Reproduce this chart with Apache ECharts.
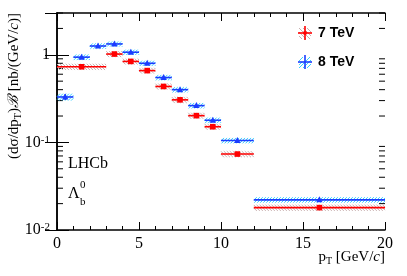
<!DOCTYPE html>
<html><head><meta charset="utf-8">
<script src="https://cdn.jsdelivr.net/npm/echarts@6/dist/echarts.min.js"></script>
<style>html,body{margin:0;padding:0;background:#fff}#c{width:407px;height:276px}</style>
</head><body><div id="c"></div>
<script>
// ---- data ----
const binLo7 = [0, 3, 4, 5, 6, 7, 8, 9, 10, 12];
const binHi7 = [3, 4, 5, 6, 7, 8, 9, 10, 12, 20];
const val7   = [0.73, 1.02, 0.84, 0.66, 0.435, 0.306, 0.202, 0.151, 0.0736, 0.0180];
const stat7  = [0.02, 0.02, 0.015, 0.012, 0.009, 0.007, 0.005, 0.004, 0.002, 0.0006];
const syst7  = [0.06, 0.08, 0.065, 0.05, 0.035, 0.025, 0.016, 0.012, 0.006, 0.0015];

const binLo8 = [0, 1, 2, 3, 4, 5, 6, 7, 8, 9, 10, 12];
const binHi8 = [1, 2, 3, 4, 5, 6, 7, 8, 9, 10, 12, 20];
const val8   = [0.33, 0.94, 1.26, 1.33, 1.07, 0.80, 0.55, 0.40, 0.263, 0.179, 0.105, 0.0221];
const stat8  = [0.025, 0.03, 0.03, 0.03, 0.02, 0.015, 0.01, 0.008, 0.006, 0.004, 0.002, 0.0006];
const syst8  = [0.03, 0.07, 0.09, 0.09, 0.075, 0.056, 0.04, 0.028, 0.019, 0.013, 0.0075, 0.0016];

const seriesNames = ['7 TeV', '8 TeV'];
const minorTickVals = [0.02,0.03,0.04,0.05,0.06,0.07,0.08,0.09,0.2,0.3,0.4,0.5,0.6,0.7,0.8,0.9,2,3];

const serif = '"Liberation Serif", "DejaVu Serif", serif';
const sans = '"Liberation Sans", Arial, sans-serif';

function rows(lo, hi, v, st, sy) {
  return v.map((_, i) => [lo[i], hi[i], v[i], st[i], sy[i]]);
}

function makeRender(kind, color, hatchColor, dir) {
  return function (params, api) {
    const x0 = api.value(0), x1 = api.value(1), y = api.value(2), se = api.value(3), sy = api.value(4);
    const xc = (x0 + x1) / 2;
    const pL = api.coord([x0, y]), pR = api.coord([x1, y]), pC = api.coord([xc, y]);
    const yT = api.coord([xc, y + sy])[1], yB = api.coord([xc, y - sy])[1];
    const eT = api.coord([xc, y + se])[1], eB = api.coord([xc, y - se])[1];
    const L = pL[0], R = pR[0], h = yB - yT;
    const ch = [];
    for (let a = L - h; a < R; a += 3) {
      const tmin = Math.max(0, (L - a) / h), tmax = Math.min(1, (R - a) / h);
      if (tmax <= tmin) continue;
      let xa = a + tmin * h, xb = a + tmax * h, ya, yb;
      if (dir > 0) { ya = yB - tmin * h; yb = yB - tmax * h; }
      else { ya = yT + tmin * h; yb = yT + tmax * h; }
      ch.push({type: 'line', shape: {x1: xa, y1: ya, x2: xb, y2: yb}, style: {stroke: hatchColor, lineWidth: 1}});
    }
    ch.push({type: 'line', shape: {x1: L, y1: pC[1], x2: R, y2: pC[1]}, style: {stroke: color, lineWidth: 1.6}});
    ch.push({type: 'line', shape: {x1: pC[0], y1: eT, x2: pC[0], y2: eB}, style: {stroke: color, lineWidth: 1.6}});
    if (kind === 'square') {
      ch.push({type: 'rect', shape: {x: pC[0] - 2.8, y: pC[1] - 2.8, width: 5.6, height: 5.6}, style: {fill: color}});
    } else {
      ch.push({type: 'polygon', shape: {points: [[pC[0], pC[1] - 3.5], [pC[0] - 3.2, pC[1] + 2.5], [pC[0] + 3.2, pC[1] + 2.5]]}, style: {fill: color}});
    }
    return {type: 'group', children: ch};
  };
}

function minorRender(params, api) {
  const v = api.value(0);
  const pl = api.coord([0, v]), pr = api.coord([20, v]);
  return {type: 'group', children: [
    {type: 'line', shape: {x1: pl[0], y1: pl[1], x2: pl[0] + 6, y2: pl[1]}, style: {stroke: '#000', lineWidth: 1}},
    {type: 'line', shape: {x1: pr[0] - 6, y1: pr[1], x2: pr[0], y2: pr[1]}, style: {stroke: '#000', lineWidth: 1}}
  ]};
}

const yLabelFmt = function (v) {
  const lg = Math.log10(v);
  const e = Math.round(lg);
  if (Math.abs(lg - e) > 1e-6) return '';
  if (e === 0) return '1';
  return '10{sup|' + e + '}';
};

const axisCommonX = {
  type: 'value', min: 0, max: 20, interval: 5,
  axisLine: {lineStyle: {color: '#000', width: 1.5}},
  axisTick: {inside: true, length: 8, lineStyle: {color: '#000', width: 1}},
  minorTick: {show: true, splitNumber: 5, length: 4, lineStyle: {color: '#000', width: 1}},
  splitLine: {show: false}, minorSplitLine: {show: false}
};
const axisCommonY = {
  type: 'log', logBase: 10, min: 0.01, max: 3,
  axisLine: {lineStyle: {color: '#000', width: 1.5}},
  axisTick: {inside: true, length: 12, lineStyle: {color: '#000', width: 1}},
  splitLine: {show: false}
};

const chart = echarts.init(document.getElementById('c'), null, {renderer: 'canvas'});
chart.setOption({
  animation: false,
  backgroundColor: '#fff',
  grid: {left: 57, right: 22, top: 13, bottom: 46, containLabel: false},
  xAxis: [
    Object.assign({}, axisCommonX, {position: 'bottom',
      axisLabel: {margin: 6, fontFamily: serif, fontSize: 16, color: '#000'}}),
    Object.assign({}, axisCommonX, {position: 'top', axisLabel: {show: false}})
  ],
  yAxis: [
    Object.assign({}, axisCommonY, {position: 'left',
      axisLabel: {margin: 7, showMaxLabel: false, fontFamily: serif, fontSize: 16, color: '#000', formatter: yLabelFmt,
        rich: {sup: {fontFamily: serif, fontSize: 11, verticalAlign: 'top', lineHeight: 10}}}}),
    Object.assign({}, axisCommonY, {position: 'right', axisLabel: {show: false}})
  ],
  series: [
    {name: 'minor', type: 'custom', xAxisIndex: 0, yAxisIndex: 0, renderItem: minorRender,
      data: minorTickVals.map(v => [v]), encode: {y: 0}, clip: false, silent: true},
    {name: seriesNames[0], type: 'custom', xAxisIndex: 0, yAxisIndex: 0,
      renderItem: makeRender('square', '#ff0000', '#c9b0b0', -1),
      data: rows(binLo7, binHi7, val7, stat7, syst7), encode: {x: [0, 1], y: 2}, clip: false},
    {name: seriesNames[1], type: 'custom', xAxisIndex: 0, yAxisIndex: 0,
      renderItem: makeRender('triangle', '#1a3cff', '#38d0ff', 1),
      data: rows(binLo8, binHi8, val8, stat8, syst8), encode: {x: [0, 1], y: 2}, clip: false}
  ],
  graphic: [
    // y-axis title
    {type: 'text', x: 14, y: 13, rotation: Math.PI / 2,
      style: {text: '(dσ/dp{sub|T}){b|ℬ} [nb/(GeV/{i|c})]', align: 'right', verticalAlign: 'middle',
        fontFamily: serif, fontSize: 15, fill: '#000', lineHeight: 18,
        rich: {sub: {fontFamily: serif, fontSize: 10, verticalAlign: 'bottom', lineHeight: 10},
               b: {fontFamily: serif, fontSize: 15, fontStyle: 'italic'},
               i: {fontFamily: serif, fontSize: 15, fontStyle: 'italic'}}}},
    // x-axis title
    {type: 'text', x: 385, y: 257,
      style: {text: 'p{sub|T} [GeV/{i|c}]', align: 'right', verticalAlign: 'middle',
        fontFamily: serif, fontSize: 15, fill: '#000', lineHeight: 18,
        rich: {sub: {fontFamily: serif, fontSize: 10, verticalAlign: 'bottom', lineHeight: 10},
               i: {fontFamily: serif, fontSize: 15, fontStyle: 'italic'}}}},
    // LHCb
    {type: 'text', x: 68, y: 164, style: {text: 'LHCb', fontFamily: serif, fontSize: 16, fill: '#000', verticalAlign: 'middle'}},
    {type: 'text', x: 68, y: 194, style: {text: 'Λ', fontFamily: serif, fontSize: 16, fill: '#000', verticalAlign: 'middle'}},
    {type: 'text', x: 80, y: 185, style: {text: '0', fontFamily: serif, fontSize: 11, fill: '#000', verticalAlign: 'middle'}},
    {type: 'text', x: 80, y: 202, style: {text: 'b', fontFamily: serif, fontSize: 11, fill: '#000', verticalAlign: 'middle'}},
    // legend 7 TeV
    {type: 'group', x: 305, y: 33, children: [
      {type: 'line', shape: {x1: -6, y1: 3, x2: -3, y2: 6}, style: {stroke: '#c9b0b0', lineWidth: 1}},
      {type: 'line', shape: {x1: -6, y1: -1, x2: 1, y2: 6}, style: {stroke: '#c9b0b0', lineWidth: 1}},
      {type: 'line', shape: {x1: -6, y1: -5, x2: 5, y2: 6}, style: {stroke: '#c9b0b0', lineWidth: 1}},
      {type: 'line', shape: {x1: -2, y1: -5, x2: 6, y2: 3}, style: {stroke: '#c9b0b0', lineWidth: 1}},
      {type: 'line', shape: {x1: 2, y1: -5, x2: 6, y2: -1}, style: {stroke: '#c9b0b0', lineWidth: 1}},
      {type: 'line', shape: {x1: -7, y1: 0, x2: 7, y2: 0}, style: {stroke: '#ff0000', lineWidth: 1.6}},
      {type: 'line', shape: {x1: 0, y1: -7, x2: 0, y2: 7}, style: {stroke: '#ff0000', lineWidth: 1.6}},
      {type: 'circle', shape: {cx: 0, cy: 0, r: 2}, style: {fill: '#ff0000'}}
    ]},
    {type: 'text', x: 318, y: 33, style: {text: seriesNames[0], fontFamily: sans, fontWeight: 'bold', fontSize: 14, fill: '#000', verticalAlign: 'middle'}},
    // legend 8 TeV
    {type: 'group', x: 305, y: 62, children: [
      {type: 'line', shape: {x1: -6, y1: 3, x2: -3, y2: 0}, style: {stroke: '#38d0ff', lineWidth: 1}},
      {type: 'line', shape: {x1: -6, y1: 6, x2: 5, y2: -5}, style: {stroke: '#38d0ff', lineWidth: 1}},
      {type: 'line', shape: {x1: -6, y1: -1, x2: -2, y2: -5}, style: {stroke: '#38d0ff', lineWidth: 1}},
      {type: 'line', shape: {x1: -2, y1: 6, x2: 6, y2: -2}, style: {stroke: '#38d0ff', lineWidth: 1}},
      {type: 'line', shape: {x1: 2, y1: 6, x2: 6, y2: 2}, style: {stroke: '#38d0ff', lineWidth: 1}},
      {type: 'line', shape: {x1: -7, y1: 0, x2: 7, y2: 0}, style: {stroke: '#1a3cff', lineWidth: 1.6}},
      {type: 'line', shape: {x1: 0, y1: -7, x2: 0, y2: 7}, style: {stroke: '#1a3cff', lineWidth: 1.6}}
    ]},
    {type: 'text', x: 318, y: 62, style: {text: seriesNames[1], fontFamily: sans, fontWeight: 'bold', fontSize: 14, fill: '#000', verticalAlign: 'middle'}}
  ]
});
</script>
</body></html>
